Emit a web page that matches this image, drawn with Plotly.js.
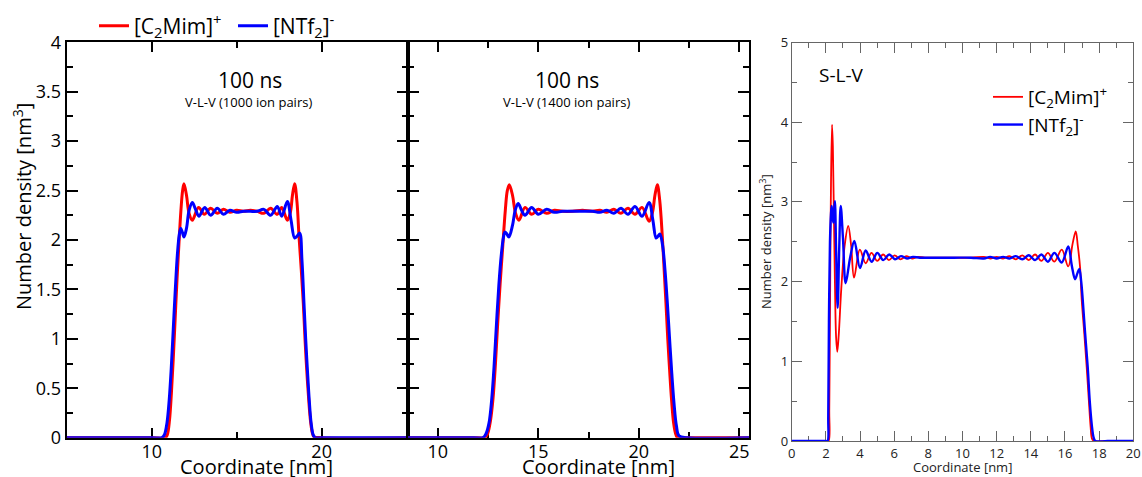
<!DOCTYPE html>
<html><head><meta charset="utf-8">
<script src="https://cdn.plot.ly/plotly-3.0.1.min.js"></script>
<style>html,body{margin:0;padding:0;background:#fff;}#chart{width:1142px;height:477px;}</style>
</head><body><div id="chart"></div>
<script>
// ---------- DATA ----------
// Panel 1: V-L-V, 1000 ion pairs
const P1_RED_X = [5, 10, 10.8, 10.92, 11.05, 11.16, 11.27, 11.38, 11.49, 11.6, 11.72, 11.82, 11.9, 12.05, 12.2, 12.39, 12.76, 13.1, 13.47, 13.86, 14.22, 14.6, 15.0, 15.4, 15.8, 16.2, 16.6, 17.0, 17.39, 17.65, 17.98, 18.16, 18.28, 18.41, 18.55, 18.67, 18.8, 18.92, 19.02, 19.12, 19.24, 19.35, 19.45, 19.55, 20, 25.08];
const P1_RED_Y = [0, 0, 0, 0.03, 0.18, 0.45, 0.8, 1.2, 1.6, 1.95, 2.3, 2.5, 2.57, 2.45, 2.27, 2.20, 2.33, 2.26, 2.32, 2.27, 2.31, 2.28, 2.30, 2.29, 2.30, 2.29, 2.27, 2.32, 2.26, 2.33, 2.20, 2.28, 2.45, 2.57, 2.38, 2.03, 1.7, 1.36, 1.0, 0.69, 0.38, 0.16, 0.05, 0.01, 0, 0];
const P1_BLUE_X = [5, 10, 10.6, 10.75, 10.9, 11.03, 11.15, 11.27, 11.39, 11.51, 11.62, 11.71, 11.8, 11.9, 12.05, 12.2, 12.39, 12.58, 12.78, 13.12, 13.47, 13.86, 14.22, 14.6, 15.0, 15.4, 15.8, 16.2, 16.6, 17.0, 17.39, 17.65, 17.98, 18.2, 18.41, 18.56, 18.71, 18.84, 18.96, 19.06, 19.16, 19.27, 19.38, 19.5, 19.62, 20, 25.08];
const P1_BLUE_Y = [0, 0, 0, 0.03, 0.15, 0.38, 0.7, 1.1, 1.5, 1.85, 2.05, 2.12, 2.08, 2.03, 2.12, 2.3, 2.38, 2.31, 2.24, 2.33, 2.25, 2.32, 2.26, 2.30, 2.28, 2.29, 2.29, 2.29, 2.31, 2.25, 2.34, 2.24, 2.39, 2.2, 2.02, 2.04, 2.07, 1.8, 1.36, 1.0, 0.69, 0.38, 0.15, 0.03, 0, 0, 0];

// Panel 2: V-L-V, 1400 ion pairs
const P2_RED_X = [8.52, 12, 12.35, 12.48, 12.62, 12.75, 12.87, 12.98, 13.1, 13.22, 13.36, 13.46, 13.56, 13.72, 13.87, 14.04, 14.34, 14.67, 15.0, 15.42, 15.8, 16.2, 16.7, 17.2, 17.7, 18.06, 18.41, 18.76, 19.11, 19.46, 19.81, 20.16, 20.51, 20.68, 20.8, 20.92, 21.04, 21.17, 21.26, 21.35, 21.44, 21.53, 21.63, 21.73, 21.83, 21.93, 22.3, 25.48];
const P2_RED_Y = [0, 0, 0, 0.04, 0.17, 0.4, 0.75, 1.15, 1.55, 1.9, 2.3, 2.5, 2.56, 2.45, 2.27, 2.20, 2.33, 2.26, 2.31, 2.27, 2.30, 2.29, 2.29, 2.30, 2.29, 2.30, 2.28, 2.31, 2.27, 2.32, 2.26, 2.33, 2.19, 2.28, 2.45, 2.56, 2.4, 2.03, 1.7, 1.36, 1.0, 0.69, 0.38, 0.15, 0.04, 0, 0, 0];
const P2_BLUE_X = [8.52, 11.8, 12.25, 12.4, 12.55, 12.68, 12.8, 12.92, 13.04, 13.16, 13.27, 13.34, 13.44, 13.54, 13.72, 13.85, 14.0, 14.17, 14.34, 14.67, 15.0, 15.42, 15.8, 16.2, 16.7, 17.2, 17.7, 18.06, 18.41, 18.76, 19.11, 19.46, 19.81, 20.16, 20.51, 20.7, 20.86, 20.96, 21.05, 21.18, 21.3, 21.42, 21.53, 21.64, 21.75, 21.87, 22.0, 22.4, 25.48];
const P2_BLUE_Y = [0, 0, 0, 0.04, 0.15, 0.38, 0.72, 1.15, 1.55, 1.85, 2.03, 2.08, 2.06, 2.03, 2.15, 2.3, 2.37, 2.3, 2.25, 2.33, 2.26, 2.31, 2.28, 2.29, 2.29, 2.29, 2.29, 2.28, 2.30, 2.27, 2.32, 2.26, 2.34, 2.24, 2.38, 2.2, 2.02, 2.04, 2.06, 1.95, 1.7, 1.36, 1.0, 0.65, 0.35, 0.12, 0.02, 0, 0];

// Panel 3: S-L-V
const P3_RED_X = [0, 1.5, 2.05, 2.16, 2.2, 2.24, 2.29, 2.36, 2.41, 2.46, 2.53, 2.6, 2.67, 2.76, 2.9, 3.1, 3.31, 3.48, 3.65, 3.99, 4.33, 4.67, 5.01, 5.35, 5.69, 6.03, 6.37, 6.71, 7.05, 7.4, 7.8, 8.5, 9.5, 10.5, 11.25, 11.62, 12.0, 12.38, 12.75, 13.12, 13.5, 13.88, 14.25, 14.62, 15.0, 15.38, 15.81, 16.19, 16.45, 16.63, 16.75, 16.88, 16.98, 17.13, 17.27, 17.4, 17.5, 17.58, 17.7, 18.5, 20];
const P3_RED_Y = [0, 0, 0, 0, 0.4, 1.5, 3.0, 3.97, 3.7, 3.0, 2.0, 1.3, 1.12, 1.35, 1.9, 2.45, 2.70, 2.45, 2.05, 2.40, 2.23, 2.36, 2.26, 2.34, 2.27, 2.33, 2.28, 2.32, 2.29, 2.31, 2.30, 2.30, 2.30, 2.30, 2.31, 2.29, 2.31, 2.29, 2.32, 2.28, 2.33, 2.27, 2.34, 2.26, 2.36, 2.25, 2.40, 2.19, 2.48, 2.63, 2.45, 2.19, 1.77, 1.35, 0.93, 0.5, 0.18, 0.03, 0, 0, 0];
const P3_BLUE_X = [0, 1.5, 2.0, 2.1, 2.14, 2.18, 2.24, 2.3, 2.34, 2.4, 2.44, 2.49, 2.53, 2.6, 2.69, 2.78, 2.87, 3.0, 3.16, 3.42, 3.67, 4.0, 4.33, 4.68, 5.01, 5.36, 5.71, 6.05, 6.4, 6.75, 7.1, 7.5, 8.5, 9.5, 10.5, 11.25, 11.62, 12.0, 12.38, 12.75, 13.12, 13.5, 13.88, 14.25, 14.62, 15.0, 15.38, 15.81, 16.19, 16.4, 16.59, 16.72, 16.84, 16.95, 17.04, 17.18, 17.33, 17.45, 17.57, 17.67, 17.78, 18.5, 20];
const P3_BLUE_Y = [0, 0, 0, 0, 0.3, 1.5, 2.5, 2.85, 2.95, 2.8, 2.74, 2.9, 3.01, 2.4, 1.67, 2.4, 2.95, 2.55, 1.98, 2.3, 2.51, 2.17, 2.39, 2.25, 2.36, 2.27, 2.34, 2.28, 2.32, 2.29, 2.31, 2.30, 2.30, 2.30, 2.30, 2.29, 2.31, 2.29, 2.31, 2.29, 2.32, 2.28, 2.33, 2.27, 2.34, 2.25, 2.36, 2.24, 2.44, 2.2, 2.03, 2.1, 2.16, 2.0, 1.77, 1.35, 0.93, 0.5, 0.2, 0.05, 0, 0, 0];

const NAME_CAT = '[C<sub>2</sub>Mim]<sup>+</sup>';
const NAME_AN = '[NTf<sub>2</sub>]<sup>-</sup>';
const TITLE_X = 'Coordinate [nm]';
const TITLE_Y = 'Number density [nm<sup>3</sup>]';
const LABEL_TIME = '100 ns';
const LABEL_P1 = 'V-L-V (1000 ion pairs)';
const LABEL_P2 = 'V-L-V (1400 ion pairs)';
const LABEL_P3 = 'S-L-V';

// ---------- LAYOUT HELPERS ----------
const W = 1142, H = 477;
const px = v => v / W, py = v => 1 - v / H;
const FONT = 'Open Sans, Noto Sans, sans-serif';
const RED = '#ff0000', BLUE = '#0000ff';

function ln(color, width) { return {color: color, width: width, shape: 'spline', smoothing: 1}; }

const traces = [
  {x: P1_RED_X, y: P1_RED_Y, xaxis: 'x', yaxis: 'y', mode: 'lines', line: ln(RED, 3), name: NAME_CAT, legend: 'legend'},
  {x: P1_BLUE_X, y: P1_BLUE_Y, xaxis: 'x', yaxis: 'y', mode: 'lines', line: ln(BLUE, 3), name: NAME_AN, legend: 'legend'},
  {x: P2_RED_X, y: P2_RED_Y, xaxis: 'x2', yaxis: 'y2', mode: 'lines', line: ln(RED, 3), showlegend: false},
  {x: P2_BLUE_X, y: P2_BLUE_Y, xaxis: 'x2', yaxis: 'y2', mode: 'lines', line: ln(BLUE, 3), showlegend: false},
  {x: P3_RED_X, y: P3_RED_Y, xaxis: 'x3', yaxis: 'y3', mode: 'lines', line: ln(RED, 1.8), name: NAME_CAT, legend: 'legend2'},
  {x: P3_BLUE_X, y: P3_BLUE_Y, xaxis: 'x3', yaxis: 'y3', mode: 'lines', line: ln(BLUE, 2.4), name: NAME_AN, legend: 'legend2'}
];

function bigAxis(extra) {
  return Object.assign({
    showline: true, linecolor: '#000', linewidth: 2, mirror: 'ticks',
    ticks: 'inside', tickcolor: '#000', tickwidth: 2,
    showgrid: false, zeroline: false, layer: 'below traces',
    tickfont: {family: FONT, size: 18, color: '#000'}
  }, extra);
}
function smallAxis(extra) {
  return Object.assign({
    showline: true, linecolor: '#666', linewidth: 1, mirror: 'ticks',
    ticks: 'inside', tickcolor: '#666', tickwidth: 1,
    showgrid: false, zeroline: false, layer: 'below traces',
    tickfont: {family: FONT, size: 13, color: '#222'}
  }, extra);
}

const D1 = [px(66.7), px(408)], D2 = [px(408), px(749)], D3 = [px(791.7), px(1133.3)];
const DY = [py(437.7), py(42.3)], DY3 = [py(441), py(42.5)];

const layout = {
  width: W, height: H,
  margin: {l: 0, r: 0, t: 0, b: 0},
  paper_bgcolor: '#fff', plot_bgcolor: 'rgba(0,0,0,0)',
  font: {family: FONT, color: '#000'},
  xaxis: bigAxis({domain: D1, anchor: 'y', range: [5, 25.08], tick0: 0, dtick: 10, ticklen: 10, ticklabelstandoff: -3,
    minor: {dtick: 5, tick0: 0, ticks: 'inside', ticklen: 6, tickwidth: 2, tickcolor: '#000'}}),
  yaxis: bigAxis({domain: DY, anchor: 'x', range: [0, 4], tick0: 0, dtick: 0.5, ticklen: 11,
    minor: {dtick: 0.25, tick0: 0, ticks: 'inside', ticklen: 6, tickwidth: 2, tickcolor: '#000'}}),
  xaxis2: bigAxis({domain: D2, anchor: 'y2', range: [8.52, 25.48], tick0: 0, dtick: 5, ticklen: 10, ticklabelstandoff: -3,
    minor: {dtick: 2.5, tick0: 0, ticks: 'inside', ticklen: 6, tickwidth: 2, tickcolor: '#000'}}),
  yaxis2: bigAxis({domain: DY, anchor: 'x2', range: [0, 4], tick0: 0, dtick: 0.5, ticklen: 11, showticklabels: false,
    minor: {dtick: 0.25, tick0: 0, ticks: 'inside', ticklen: 6, tickwidth: 2, tickcolor: '#000'}}),
  xaxis3: smallAxis({domain: D3, anchor: 'y3', range: [0, 20], tick0: 0, dtick: 2, ticklen: 10,
    minor: {dtick: 1, tick0: 0, ticks: 'inside', ticklen: 5, tickwidth: 1, tickcolor: '#666'}}),
  yaxis3: smallAxis({domain: DY3, anchor: 'x3', range: [0, 5], tick0: 0, dtick: 1, ticklen: 10,
    minor: {dtick: 0.5, tick0: 0, ticks: 'inside', ticklen: 5, tickwidth: 1, tickcolor: '#666'}}),
  legend: {orientation: 'h', x: px(94), y: py(26), xanchor: 'left', yanchor: 'middle',
    entrywidth: 94, entrywidthmode: 'pixels',
    font: {family: FONT, size: 21, color: '#000'}, bgcolor: 'rgba(0,0,0,0)', traceorder: 'normal'},
  legend2: {orientation: 'v', x: px(988), y: py(111), xanchor: 'left', yanchor: 'middle',
    font: {family: FONT, size: 19, color: '#000'}, bgcolor: 'rgba(0,0,0,0)', traceorder: 'normal', tracegroupgap: 0},
  annotations: [
    {text: TITLE_X, x: px(256), y: py(466), xref: 'paper', yref: 'paper', showarrow: false, xanchor: 'center', yanchor: 'middle', font: {size: 20}},
    {text: TITLE_X, x: px(598), y: py(466), xref: 'paper', yref: 'paper', showarrow: false, xanchor: 'center', yanchor: 'middle', font: {size: 20}},
    {text: TITLE_X, x: px(962), y: py(467), xref: 'paper', yref: 'paper', showarrow: false, xanchor: 'center', yanchor: 'middle', font: {size: 13, color: '#222'}},
    {text: TITLE_Y, x: px(22), y: py(207), xref: 'paper', yref: 'paper', showarrow: false, textangle: -90, xanchor: 'center', yanchor: 'middle', font: {size: 20}},
    {text: TITLE_Y, x: px(766), y: py(242), xref: 'paper', yref: 'paper', showarrow: false, textangle: -90, xanchor: 'center', yanchor: 'middle', font: {size: 13, color: '#222'}},
    {text: LABEL_TIME, x: px(250), y: py(80), xref: 'paper', yref: 'paper', showarrow: false, xanchor: 'center', yanchor: 'middle', font: {size: 21}},
    {text: LABEL_P1, x: px(248), y: py(102), xref: 'paper', yref: 'paper', showarrow: false, xanchor: 'center', yanchor: 'middle', font: {size: 13}},
    {text: LABEL_TIME, x: px(567), y: py(80), xref: 'paper', yref: 'paper', showarrow: false, xanchor: 'center', yanchor: 'middle', font: {size: 21}},
    {text: LABEL_P2, x: px(566), y: py(102), xref: 'paper', yref: 'paper', showarrow: false, xanchor: 'center', yanchor: 'middle', font: {size: 13}},
    {text: LABEL_P3, x: px(841), y: py(75), xref: 'paper', yref: 'paper', showarrow: false, xanchor: 'center', yanchor: 'middle', font: {size: 19}}
  ]
};

Plotly.newPlot('chart', traces, layout, {displayModeBar: false, staticPlot: true});
</script></body></html>
